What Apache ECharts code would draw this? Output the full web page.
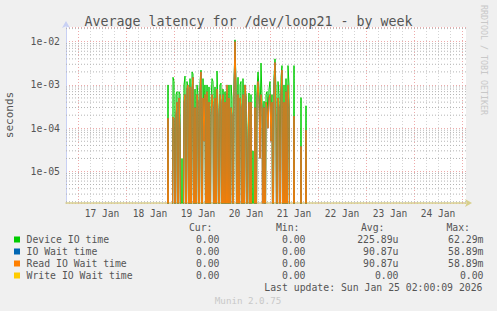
<!DOCTYPE html>
<html>
<head>
<meta charset="utf-8">
<script src="https://cdn.jsdelivr.net/npm/echarts@6/dist/echarts.min.js"></script>
<style>
html,body{margin:0;padding:0;background:#f0f0f0;}
#c{width:497px;height:311px;}
</style>
</head>
<body>
<div id="c"></div>
<script>
// ---- data (30-minute samples starting 2026-01-18 20:00 UTC) ----
const startTime = Date.UTC(2026, 0, 18, 20, 0);
const stepMs = 30 * 60 * 1000;
const deviceIO = [
 0,0,1.0e-3,0,0,0,0,1.5e-3,1.2e-3,0,6e-4,7e-4,0,7e-4,6e-4,0,2e-5,0,1e-3,1.6e-3,
 0,1.2e-3,8e-4,0,1.4e-3,0,2e-3,1.8e-3,0,8e-4,0,1e-3,6e-4,0,1.2e-3,2.2e-3,0,1.4e-3,1e-4,1e-3,
 0,1e-3,0,9e-4,0,4e-4,1.4e-3,1.2e-3,0,9e-4,0,2.1e-3,3e-4,0,1e-3,1.1e-3,0,8e-4,0,7e-4,
 0,6.5e-4,0,1e-3,0,1e-3,5e-4,0,1e-3,1.1e-2,1e-3,0,1.5e-3,0,1e-3,1.2e-3,0,1.4e-3,0,1e-3,
 5.6e-4,0,1e-4,6.5e-4,0,6e-4,0,3e-5,0,1e-3,0,8e-4,2e-3,9e-4,1e-4,3.2e-3,5e-4,4e-6,4.2e-4,0,
 6e-4,7e-4,2e-4,8e-4,1.2e-3,1e-4,6e-4,0,1.5e-3,4e-3,8e-4,0,1.2e-3,6e-4,1e-5,1.5e-3,2.8e-3,0,1e-3,0,
 1.4e-3,0,2.8e-3,1e-3,0,0,0,0,2.8e-3,0,0,0,0,0,0,5.1e-4,0,0,0,0,
 3.3e-4,0,0
];
const readIOWait = [
 0,0,1.7e-4,0,0,0,0,1.8e-4,1.6e-4,0,2e-4,4e-4,0,5e-4,1e-4,0,0,0,4e-4,6e-4,
 0,8e-4,1e-3,0,9e-4,0,8e-4,1.5e-3,0,3e-4,0,6e-4,4e-4,0,7e-4,2e-3,0,5e-4,5e-5,6e-4,
 0,7e-4,0,4e-4,0,2e-4,6e-4,3e-4,0,5e-4,0,8e-4,2e-4,0,6e-4,4e-4,0,6e-4,0,4e-4,
 0,1e-3,0,5e-4,0,3e-4,2e-4,0,8e-4,1e-2,7e-4,0,6e-4,0,5e-4,3e-4,0,6e-4,0,1e-3,
 5e-4,0,5e-5,4e-4,0,4e-4,0,0,0,3e-4,0,5e-4,1.2e-3,4e-4,2e-5,6e-4,3e-4,0,3e-4,0,
 4e-4,3e-4,1e-4,5e-4,6e-4,5e-5,4e-4,0,1e-3,3.3e-3,1e-4,0,5e-4,3e-4,0,6e-4,2.2e-3,0,4e-4,0,
 7e-4,0,1e-3,3e-4,0,0,0,0,1.9e-4,0,0,0,0,0,0,3.8e-5,0,0,0,0,
 9e-5,0,0
];
const ioWait = readIOWait.slice();
const writeIOWait = readIOWait.map(() => 0);
const yTicks = ['1e-05', '1e-04', '1e-03', '1e-02'];
const xLabels = ['17 Jan','18 Jan','19 Jan','20 Jan','21 Jan','22 Jan','23 Jan','24 Jan'];
const legendNames = ['Device IO time', 'IO Wait time', 'Read IO Wait time', 'Write IO Wait time'];
const legendColors = ['#00cc00', '#0066b3', '#ff8000', '#ffcc00'];
const curVals = ['0.00', '0.00', '0.00', '0.00'];
const minVals = ['0.00', '0.00', '0.00', '0.00'];
const avgVals = ['225.89u', '90.87u', '90.87u', '0.00'];
const maxVals = ['62.29m', '58.89m', '58.89m', '0.00'];

// ---- chart ----
const MONO = 'DejaVu Sans Mono';
const H6 = 6 * 3600 * 1000;
const xMin = Date.UTC(2026, 0, 16, 18, 0);
const xMax = Date.UTC(2026, 0, 25, 2, 0);
const yMin = 1.87e-6, yMax = 0.0218;
const FLOOR = 1e-9; // zero on log scale -> pushed below the axis and clipped

function toSeries(arr) {
  return arr.map((v, i) => [startTime + i * stepMs, v > 0 ? v : FLOOR]);
}
const grey = '#d4d4d4', red = '#eeaaaa', hGrey = '#b4b4b4';
// minor horizontal grid (2..9 x 10^k) as a dotted line series on the log axis
const minorGrid = [];
for (let e = -6; e <= -2; e++) {
  for (let m = 2; m <= 9; m++) {
    const v = m * Math.pow(10, e);
    if (v > yMin && v < yMax) { minorGrid.push([xMin, v], [xMax, v], [xMax, '-']); }
  }
}
// vertical grid every 6 h, red at midnight
const vLines = [];
for (let t = xMin + H6; t < xMax; t += H6) {
  const isDay = new Date(t).getUTCHours() === 0;
  vLines.push({ xAxis: t, lineStyle: { color: isDay ? red : grey } });
}

const chart = echarts.init(document.getElementById('c'), null, { renderer: 'svg' });
const lineSeries = (name, data, color, z) => ({
  name, type: 'line', data: toSeries(data), showSymbol: false, symbol: 'none',
  lineStyle: { color, width: 1 }, itemStyle: { color }, clip: true, z, animation: false
});

const graphics = [];
const rowY = [239.5, 251.5, 263.5, 275.5];
const txt = (x, y, text, align, color, size) => ({
  type: 'text', x, y, style: { text, fill: color || '#555', font: (size || 9.8) + 'px "' + MONO + '"',
  textAlign: align || 'left', textVerticalAlign: 'middle' }
});
graphics.push(txt(212.5, 227.5, 'Cur:', 'right'));
graphics.push(txt(299.5, 227.5, 'Min:', 'right'));
graphics.push(txt(384.5, 227.5, 'Avg:', 'right'));
graphics.push(txt(470, 227.5, 'Max:', 'right'));
legendNames.forEach((n, i) => {
  graphics.push({ type: 'rect', shape: { x: 14, y: rowY[i] - 3, width: 6, height: 6 }, style: { fill: legendColors[i] } });
  graphics.push(txt(26.5, rowY[i], n, 'left'));
  graphics.push(txt(219.5, rowY[i], curVals[i], 'right'));
  graphics.push(txt(305.5, rowY[i], minVals[i], 'right'));
  graphics.push(txt(398.5, rowY[i], avgVals[i], 'right'));
  graphics.push(txt(483.5, rowY[i], maxVals[i], 'right'));
});
graphics.push(txt(482.5, 287.5, 'Last update: Sun Jan 25 02:00:09 2026', 'right'));
graphics.push(txt(248, 300.5, 'Munin 2.0.75', 'center', '#c8c8c8', 9.2));
graphics.push({ type: 'text', x: 484, y: 5, rotation: -Math.PI / 2,
  style: { text: 'RRDTOOL / TOBI OETIKER', fill: '#c8c8c8', font: '8.3px "' + MONO + '"', textAlign: 'left', textVerticalAlign: 'middle' } });

chart.setOption({
  backgroundColor: '#f0f0f0',
  animation: false,
  title: {
    text: 'Average latency for /dev/loop21 - by week', left: 'center', top: 10,
    textStyle: { fontFamily: MONO, fontSize: 13.3, fontWeight: 'normal', color: '#555' }
  },
  grid: { left: 66, right: 31, top: 27, bottom: 108, show: true, backgroundColor: '#ffffff', borderWidth: 0,
          containLabel: false, outerBoundsMode: 'none' },
  xAxis: {
    type: 'value', min: xMin, max: xMax, interval: H6,
    axisLine: { show: true, lineStyle: { color: '#d8d08c', width: 1.5 }, symbol: ['none', 'arrow'], symbolSize: [6, 7], symbolOffset: [0, 6] },
    axisTick: { show: false },
    axisLabel: {
      show: true, margin: 5, color: '#555', fontFamily: MONO, fontSize: 9.6, showMinLabel: true, showMaxLabel: false,
      formatter: (v) => {
        const d = new Date(v);
        if (d.getUTCHours() !== 12) return '';
        const idx = d.getUTCDate() - 17;
        return xLabels[idx] || '';
      }
    },
    splitLine: { show: false }
  },
  yAxis: {
    type: 'log', logBase: 10, min: yMin, max: yMax,
    name: 'seconds', nameLocation: 'middle', nameGap: 51, nameRotate: 90,
    nameTextStyle: { fontFamily: MONO, fontSize: 11, color: '#555' },
    axisLine: { show: true, lineStyle: { color: '#c8d0f4', width: 1 }, symbol: ['none', 'arrow'], symbolSize: [6, 7], symbolOffset: [0, 6] },
    axisTick: { show: false },
    axisLabel: {
      margin: 6, color: '#555', fontFamily: MONO, fontSize: 9.8, showMinLabel: false, showMaxLabel: false,
      formatter: (v) => {
        const e = Math.round(Math.log10(v));
        const s = '1e-' + String(-e).padStart(2, '0');
        return yTicks.indexOf(s) >= 0 ? s : '';
      }
    },
    splitLine: { show: true, lineStyle: { color: red, type: [1, 2], width: 1 } }
  },
  graphic: graphics,
  series: [
    {
      type: 'line', data: minorGrid, connectNulls: false, silent: true, z: 1,
      symbol: 'none', showSymbol: false, clip: true,
      lineStyle: { color: hGrey, type: [1, 2], width: 1 },
      markLine: {
        silent: true, symbol: 'none', z: 1, animation: false,
        label: { show: false },
        lineStyle: { color: grey, type: [1, 2], width: 1 },
        data: vLines
      }
    },
    lineSeries('Device IO time', deviceIO, legendColors[0], 3),
    lineSeries('IO Wait time', ioWait, legendColors[1], 4),
    lineSeries('Read IO Wait time', readIOWait, legendColors[2], 5),
    lineSeries('Write IO Wait time', writeIOWait, legendColors[3], 6)
  ]
});
</script>
</body>
</html>
